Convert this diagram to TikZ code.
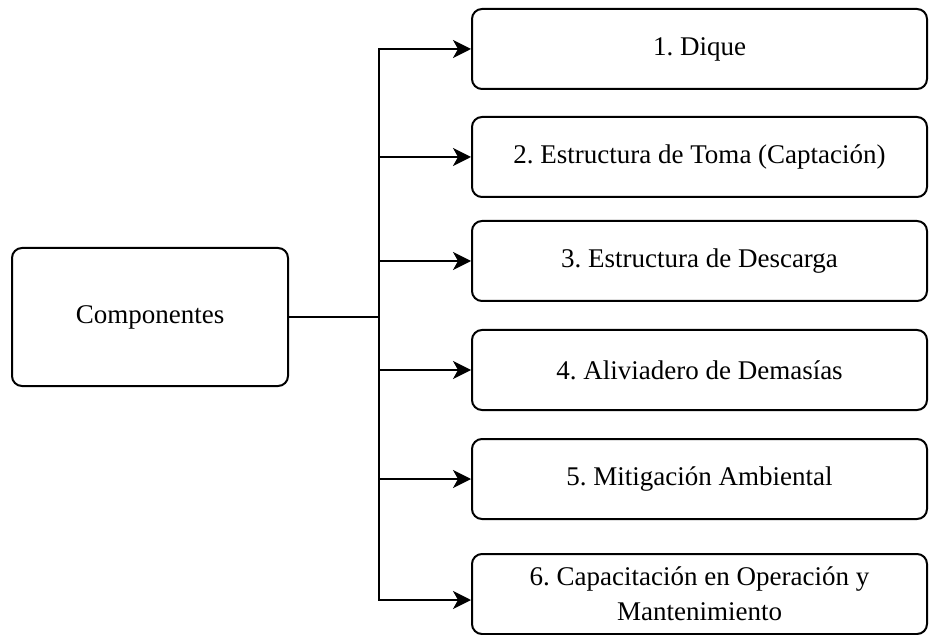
\documentclass[tikz,border=0pt]{standalone}
\usepackage{fontspec}
\setmainfont{Liberation Serif}
\usetikzlibrary{arrows.meta}
\frenchspacing

\begin{document}
\begin{tikzpicture}[x=0.5pt, y=-0.5pt,
  box/.style={draw=black, line width=1pt, rounded corners=5pt, align=center,
    font=\fontsize{13.5}{17.5}\selectfont, inner sep=2pt},
  item/.style={box, minimum width=227.5pt, minimum height=40pt},
  link/.style={draw=black, line width=1pt, -{Stealth[length=9pt, width=9pt, inset=2.5pt]}}]
\useasboundingbox (0, 0) rectangle (929, 635);
\node[box, minimum width=138pt, minimum height=69pt] (comp) at (150, 317) {Componentes};
\node[item] (c1) at (699.5, 49) {1. Dique};
\node[item] (c2) at (699.5, 157) {2. Estructura de Toma (Captación)};
\node[item] (c3) at (699.5, 261) {3. Estructura de Descarga};
\node[item] (c4) at (699.5, 370) {4. Aliviadero de Demasías};
\node[item] (c5) at (699.5, 479) {5. Mitigación Ambiental};
\node[item] (c6) at (699.5, 594) {6. Capacitación en Operación y\\Mantenimiento};
\coordinate (bus) at (379, 317);
\draw[black, line width=1pt] (comp.east) -- (bus);
\foreach \k in {1,...,5}
  \draw[link] (bus) |- (c\k.west);
\draw[link] (bus) |- ([yshift=-3pt]c6.west);
\end{tikzpicture}
\end{document}
